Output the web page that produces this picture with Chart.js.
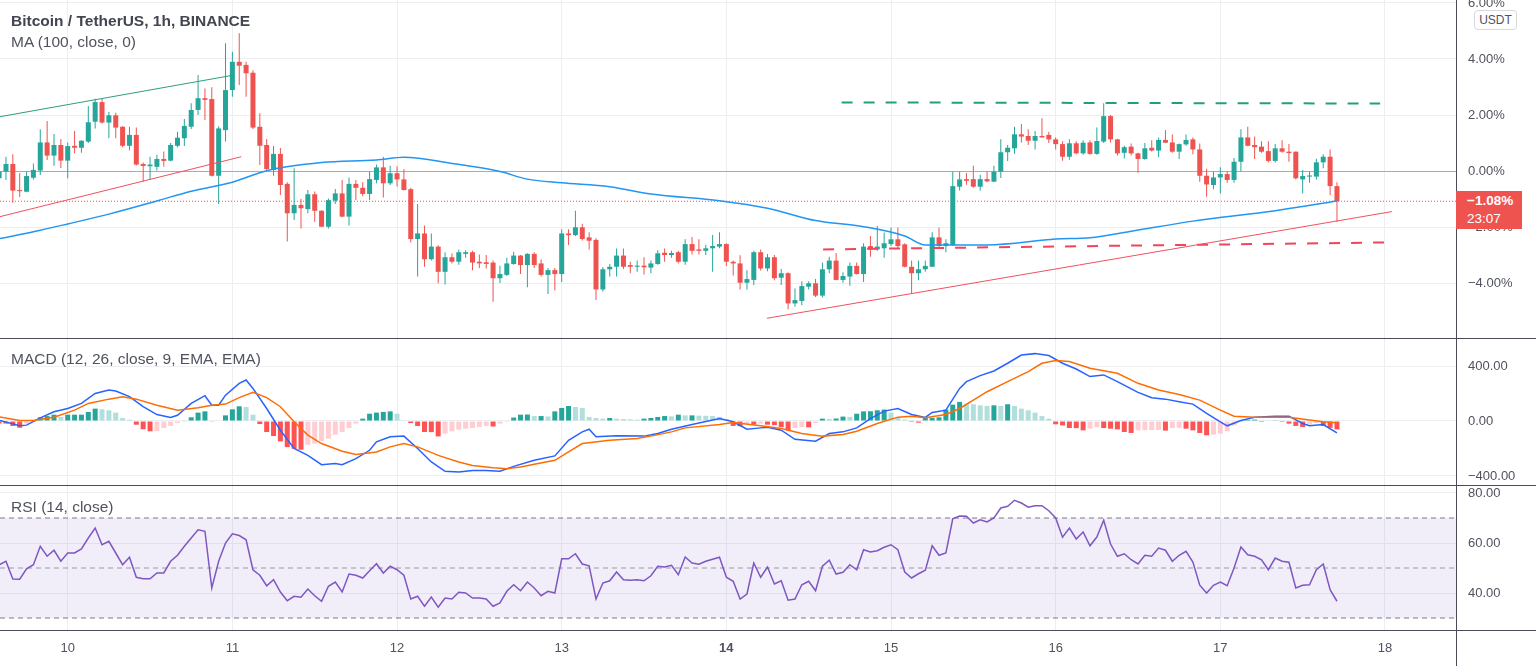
<!DOCTYPE html>
<html lang="en">
<head>
<meta charset="UTF-8">
<title>BTCUSDT 1h</title>
<script src="https://cdn.jsdelivr.net/npm/chart.js"></script>
<style>
    * { margin: 0; padding: 0; }
    body { width: 1536px; height: 666px; background: #fff; overflow: hidden; font-family: "Liberation Sans", Arial, sans-serif; }
    #wrap { position: relative; width: 1536px; height: 666px; }
    canvas { position: absolute; left: 0; }
    .hline { position: absolute; left: 0; width: 1536px; height: 1px; background: #4a4c55; }
    .vline { position: absolute; top: 0; left: 1456px; width: 1px; height: 666px; background: #4a4c55; }
    .title { position: absolute; left: 11px; font-size: 15.5px; line-height: 18px; color: #50535e; white-space: nowrap; }
    .title.main { font-weight: bold; color: #434651; }
    #usdt { position: absolute; left: 1474px; top: 10px; width: 41px; height: 18px; border: 1px solid #d6d8de; border-radius: 4px;
            font-size: 12px; line-height: 18px; text-align: center; color: #50535e; background: #fff; }
    #last { position: absolute; left: 1456px; top: 191px; width: 66px; height: 38px; background: #ef5350; color: #fff;
            font-size: 13.5px; line-height: 18px; padding-top: 1px; box-sizing: border-box; padding-left: 11px; }
    #last b { font-weight: bold; }
</style>
</head>
<body>
<div id="wrap">
    <canvas id="price" width="1536" height="338" style="top:0"></canvas>
    <canvas id="macd" width="1536" height="146" style="top:339px"></canvas>
    <canvas id="rsi" width="1536" height="180" style="top:486px"></canvas>

    <div class="hline" style="top:338px"></div>
    <div class="hline" style="top:485px"></div>
    <div class="hline" style="top:630px"></div>
    <div class="vline"></div>

    <div class="title main" style="top:12px">Bitcoin / TetherUS, 1h, BINANCE</div>
    <div class="title" style="top:33px">MA (100, close, 0)</div>
    <div class="title" style="top:350px">MACD (12, 26, close, 9, EMA, EMA)</div>
    <div class="title" style="top:498px">RSI (14, close)</div>

    <div id="usdt">USDT</div>
    <div id="last"><b>−1.08%</b><br>23:07</div>
</div>
<script>
// candles, 1h, values in % (index 0 = 9th 14:00)
const opens = [
    -0.26, -0.02, 0.25, -0.68, -0.74, -0.24, 0.0, 1.02, 0.55, 0.93,
    0.37, 0.9, 0.83, 1.05, 1.76, 2.46, 1.73, 1.99, 1.58, 0.9,
    1.29, 0.25, 0.17, 0.15, 0.43, 0.37, 0.9, 1.17, 1.58, 2.18,
    2.6, 2.57, -0.17, 1.46, 2.89, 3.9, 3.79, 3.51, 1.58, 0.93,
    0.04, 0.61, -0.46, -1.51, -1.21, -1.36, -0.83, -1.42, -1.99, -1.06,
    -0.8, -1.63, -0.46, -0.6, -0.82, -0.32, 0.13, -0.44, -0.08, -0.3,
    -0.65, -2.43, -2.23, -3.15, -2.7, -3.6, -3.08, -3.24, -2.96, -2.9,
    -3.24, -3.26, -3.27, -3.83, -3.71, -3.32, -3.02, -3.36, -2.96, -3.3,
    -3.71, -3.54, -3.68, -2.23, -2.29, -2.01, -2.37, -2.46, -4.23, -3.51,
    -3.42, -3.02, -3.36, -3.42, -3.38, -3.45, -3.32, -2.92, -3.0, -2.9,
    -3.24, -2.61, -2.8, -2.85, -2.76, -2.7, -2.61, -3.24, -3.3, -3.99,
    -3.89, -2.9, -3.48, -3.08, -3.81, -3.65, -4.73, -4.64, -4.13, -4.01,
    -4.45, -3.51, -3.2, -3.89, -3.77, -3.39, -3.68, -2.68, -2.8, -2.76,
    -2.61, -2.44, -2.62, -3.42, -3.65, -3.51, -3.42, -2.37, -2.68, -2.64,
    -0.56, -0.29, -0.29, -0.56, -0.29, -0.38, -0.02, 0.67, 0.81, 1.31,
    1.25, 1.08, 1.25, 1.29, 1.13, 0.96, 0.51, 0.99, 0.63, 1.02,
    0.61, 1.05, 1.96, 1.13, 0.65, 0.87, 0.63, 0.43, 0.83, 0.73,
    1.11, 1.02, 0.69, 0.95, 1.13, 0.77, -0.17, -0.5, -0.23, -0.11,
    -0.32, 0.33, 1.2, 0.93, 0.87, 0.71, 0.36, 0.81, 0.69, 0.69,
    -0.3, -0.2, -0.2, 0.31, 0.51, -0.54
];
const highs = [
    0.1, 0.51, 0.6, -0.07, 0.0, 0.27, 1.49, 1.79, 1.32, 1.14,
    1.02, 1.43, 1.1, 2.32, 2.58, 2.58, 2.11, 2.08, 1.6, 1.58,
    1.55, 0.3, 0.51, 0.58, 0.7, 1.0, 1.4, 1.86, 2.42, 3.43,
    2.95, 2.99, 1.6, 4.56, 4.26, 4.92, 3.9, 3.6, 2.06, 1.14,
    0.89, 0.82, -0.4, 0.1, -1.0, -0.68, -0.73, -1.4, -0.98, -0.64,
    -0.32, -0.23, -0.32, -0.4, 0.0, 0.23, 0.51, 0.19, 0.17, 0.06,
    -0.6, -1.18, -1.95, -2.23, -2.65, -2.9, -2.95, -2.8, -2.83, -2.85,
    -2.98, -3.0, -3.2, -3.38, -3.1, -2.88, -3.0, -2.94, -2.9, -3.15,
    -3.46, -3.46, -2.08, -2.08, -1.42, -1.88, -2.19, -2.4, -3.43, -3.32,
    -2.77, -2.77, -3.24, -3.2, -3.08, -3.2, -2.83, -2.77, -2.85, -2.85,
    -2.44, -2.36, -2.44, -2.63, -2.29, -2.19, -2.58, -3.2, -3.01, -3.54,
    -2.85, -2.8, -2.96, -3.0, -3.5, -3.62, -4.2, -3.94, -3.94, -3.86,
    -3.27, -3.06, -2.93, -3.62, -3.27, -3.27, -2.58, -2.32, -1.96, -2.2,
    -2.02, -2.02, -2.58, -3.2, -3.2, -3.2, -2.19, -2.02, -2.44, -0.02,
    0.0, -0.07, 0.19, -0.13, 0.0, 0.19, 1.13, 0.93, 1.58, 1.68,
    1.49, 1.43, 1.88, 1.4, 1.2, 1.06, 1.13, 1.06, 1.1, 1.1,
    1.55, 2.42, 2.0, 1.15, 0.9, 0.98, 0.65, 1.0, 1.1, 1.2,
    1.46, 1.3, 0.98, 1.3, 1.2, 0.98, 0.08, 0.0, 0.13, 0.0,
    0.46, 1.49, 1.58, 1.23, 1.06, 1.06, 0.96, 1.1, 0.96, 0.7,
    0.04, 0.0, 0.44, 0.6, 0.77, -0.4
];
const lows = [
    -0.35, -0.32, -1.13, -0.93, -0.76, -0.3, -0.14, 0.39, 0.19, 0.11,
    -0.26, 0.63, 0.65, 1.0, 1.52, 1.7, 1.17, 1.17, 0.85, 0.73,
    0.2, -0.38, -0.32, 0.0, 0.15, 0.35, 0.85, 0.89, 1.5, 2.0,
    1.82, -0.2, -1.18, 1.05, 2.65, 3.07, 2.65, 1.5, 0.21, 0.0,
    -0.17, -0.86, -2.52, -1.75, -2.05, -1.51, -1.81, -2.0, -2.05, -1.18,
    -1.65, -1.95, -1.04, -0.9, -1.04, -0.44, -0.95, -0.5, -0.55, -0.7,
    -2.55, -3.77, -3.42, -3.2, -4.01, -4.05, -3.3, -3.35, -3.1, -3.54,
    -3.46, -3.48, -4.67, -4.0, -3.75, -3.35, -3.68, -4.15, -3.46, -3.77,
    -4.39, -4.27, -3.96, -2.64, -2.32, -2.48, -2.8, -4.61, -4.3, -3.77,
    -3.77, -3.5, -3.65, -3.6, -3.7, -3.65, -3.35, -3.24, -3.1, -3.3,
    -3.35, -2.98, -2.98, -3.0, -3.6, -2.76, -3.39, -3.73, -4.23, -4.23,
    -4.07, -3.55, -3.58, -3.9, -4.07, -4.94, -4.85, -4.79, -4.23, -4.5,
    -4.52, -3.65, -3.9, -3.99, -4.1, -3.7, -3.96, -3.06, -2.85, -3.1,
    -2.68, -2.76, -3.45, -4.37, -3.9, -3.6, -3.42, -2.76, -2.9, -2.68,
    -0.7, -0.49, -0.6, -0.7, -0.4, -0.4, -0.25, 0.36, 0.62, 1.02,
    0.93, 0.77, 1.2, 1.0, 0.77, 0.37, 0.4, 0.6, 0.58, 0.58,
    0.58, 1.0, 1.02, 0.55, 0.45, 0.55, -0.06, 0.4, 0.7, 0.5,
    1.0, 0.65, 0.43, 0.9, 0.6, -0.38, -0.92, -0.65, -0.8, -0.42,
    -0.42, -0.02, 0.88, 0.43, 0.65, 0.3, 0.3, 0.65, 0.33, -0.3,
    -0.8, -0.42, -0.3, 0.1, -0.86, -1.81
];
const closes = [
    -0.02, 0.25, -0.7, -0.72, -0.18, 0.04, 1.02, 0.55, 0.93, 0.37,
    0.89, 0.83, 1.08, 1.74, 2.46, 1.73, 1.99, 1.55, 0.9, 1.29,
    0.23, 0.18, 0.23, 0.43, 0.36, 0.93, 1.19, 1.61, 2.18, 2.6,
    2.54, -0.17, 1.52, 2.89, 3.9, 3.76, 3.49, 1.55, 0.9, 0.07,
    0.61, -0.5, -1.51, -1.21, -1.33, -0.83, -1.42, -1.99, -1.04, -0.8,
    -1.63, -0.46, -0.6, -0.82, -0.29, 0.13, -0.44, -0.08, -0.3, -0.68,
    -2.43, -2.23, -3.15, -2.7, -3.6, -3.08, -3.24, -2.9, -2.9, -3.27,
    -3.3, -3.32, -3.83, -3.68, -3.3, -3.02, -3.36, -2.96, -3.36, -3.71,
    -3.54, -3.68, -2.23, -2.29, -2.01, -2.43, -2.49, -4.23, -3.51, -3.42,
    -3.02, -3.42, -3.42, -3.38, -3.44, -3.3, -2.94, -3.0, -2.93, -3.24,
    -2.61, -2.85, -2.85, -2.76, -2.68, -2.61, -3.24, -3.3, -3.99, -3.86,
    -2.9, -3.48, -3.08, -3.83, -3.65, -4.73, -4.61, -4.11, -4.01, -4.45,
    -3.51, -3.2, -3.89, -3.75, -3.39, -3.68, -2.7, -2.8, -2.7, -2.58,
    -2.44, -2.68, -3.42, -3.65, -3.51, -3.39, -2.37, -2.68, -2.58, -0.54,
    -0.3, -0.35, -0.56, -0.29, -0.37, -0.02, 0.67, 0.83, 1.31, 1.23,
    1.08, 1.25, 1.2, 1.13, 0.96, 0.51, 0.99, 0.63, 1.01, 0.61,
    1.07, 1.96, 1.13, 0.63, 0.85, 0.63, 0.43, 0.81, 0.73, 1.11,
    1.01, 0.69, 0.96, 1.11, 0.77, -0.17, -0.48, -0.23, -0.11, -0.32,
    0.33, 1.2, 0.9, 0.85, 0.69, 0.36, 0.81, 0.69, 0.64, -0.26,
    -0.18, -0.16, 0.31, 0.51, -0.54, -1.08
];

// MA(100) read at some candles
const maIdx = [0, 5, 10, 16, 23, 28, 34, 39, 47, 55, 59, 66, 73, 77, 82, 89, 95, 105, 112, 119, 126, 132, 135, 144, 154, 159, 165, 174, 186, 195];
const maVal = [-2.42, -2.17, -1.89, -1.54, -1.07, -0.72, -0.4, 0.01, 0.3, 0.39, 0.49, 0.27, -0.02, -0.29, -0.42, -0.56, -0.82, -1.06, -1.33, -1.77, -1.99, -2.32, -2.64, -2.64, -2.43, -2.38, -2.15, -1.79, -1.42, -1.07];

// drawn lines (candle index, %)
const greenChannelX = [0.13, 34.3], greenChannelY = [1.94, 3.43];
const redChannelX = [0.13, 35.3], redChannelY = [-1.63, 0.51];
const supportX = [111.9, 203], supportY = [-5.26, -1.45];
const resistDashX = [122.8, 201.3], resistDashY = [2.45, 2.41];
const supportDashX = [120.1, 202.7], supportDashY = [-2.8, -2.55];

// MACD
const macdIdx = [0, 3, 4, 6, 8, 10, 12, 14, 16, 17, 19, 21, 23, 25, 26, 28, 30, 31, 32, 33, 35, 36, 37, 39, 41, 43, 45, 47, 49, 50,
    52, 54, 55, 57, 59, 61, 63, 65, 67, 69, 71, 73, 75, 78, 81, 83, 85, 86, 87, 90, 94, 96, 98, 101, 105, 107, 109, 111, 112, 114,
    116, 119, 121, 123, 125, 127, 129, 131, 133, 135, 136, 138, 140, 141, 143, 145, 147, 149, 151, 153, 155, 157, 159, 161, 163, 166,
    168, 170, 172, 174, 176, 178, 179, 181, 183, 186, 188, 190, 191, 193, 195];
const macdVal = [5, -35, -30, 23, 67, 91, 128, 200, 225, 218, 177, 104, 47, 26, 42, 128, 184, 115, 115, 188, 274, 298, 237, 91, -67, -200, -250, -318, -310, -318,
    -274, -213, -152, -115, -110, -200, -298, -366, -371, -360, -360, -366, -330, -286, -254, -140, -79, -60, -115, -108, -110, -91, -60, -26, 18, -6, -60, -50, -45, -67,
    -133, -147, -91, -79, -50, 18, 72, 91, 47, 26, 62, 79, 237, 286, 330, 364, 420, 480, 490, 476, 420, 378, 323, 335, 286, 208,
    169, 159, 140, 123, 55, -6, -35, 4, 28, 35, 35, -18, -35, -26, -86];
const signalIdx = [0, 3, 5, 8, 11, 13, 16, 18, 20, 23, 26, 29, 31, 33, 35, 37, 39, 41, 43, 45, 47, 50, 52, 55, 57, 59, 61, 64, 67, 69,
    72, 74, 76, 78, 81, 83, 85, 89, 93, 95, 98, 100, 105, 107, 111, 114, 117, 120, 123, 125, 128, 131, 133, 135, 138, 140, 142, 144, 147, 150,
    152, 154, 156, 159, 163, 166, 169, 172, 175, 178, 180, 183, 185, 188, 191, 193, 195];
const signalVal = [31, 4, 4, 27, 79, 128, 159, 177, 159, 115, 79, 96, 115, 123, 170, 208, 170, 104, -6, -103, -164, -220, -244, -225, -188, -164, -188, -250, -298, -323,
    -340, -347, -335, -315, -286, -225, -164, -140, -128, -110, -79, -50, -26, -11, -35, -55, -91, -110, -98, -74, -18, 28, 35, 23, 47, 91, 152, 213, 286, 359,
    420, 440, 432, 384, 347, 274, 225, 193, 152, 79, 35, 28, 28, 28, 8, -6, -13];
const hist = [
    -19, -19, -36, -49, -19, -7, 27, 36, 46, 29,
    46, 46, 46, 66, 90, 85, 78, 61, 22, 10,
    -27, -60, -75, -74, -51, -36, -15, -7, 27, 61,
    70, -5, 0, 41, 85, 107, 102, 46, -22, -80,
    -109, -148, -190, -202, -209, -173, -165, -147, -129, -100,
    -80, -51, -19, 17, 53, 61, 66, 70, 53, 5,
    -15, -36, -80, -81, -112, -92, -75, -63, -56, -51,
    -44, -36, -40, -19, -7, 25, 46, 47, 36, 36,
    33, 70, 95, 109, 102, 95, 29, 22, 17, 22,
    17, 14, 12, 10, 17, 22, 29, 36, 34, 46,
    41, 41, 39, 38, 36, 30, 15, -36, -38, -19,
    -25, -19, -27, -30, -44, -68, -51, -44, -46, -15,
    17, 15, 18, 32, 30, 53, 70, 71, 78, 83,
    61, 22, 10, -7, -12, 22, 23, 27, 83, 119,
    139, 126, 122, 114, 109, 114, 110, 122, 110, 90,
    78, 61, 36, 17, -24, -32, -51, -52, -68, -56,
    -44, -51, -56, -61, -80, -87, -68, -67, -66, -65,
    -70, -51, -50, -56, -68, -87, -104, -100, -92, -75,
    -32, -7, 7, 10, -7, 4, 5, -7, -19, -36,
    -44, -25, -15, -36, -50, -61
];

// RSI
const rsiIdx = [];
for (let i = 0; i <= 195; i++) if (i !== 104) rsiIdx.push(i);
const rsiVal = [
    51.3, 52.7, 45.6, 45.5, 49.7, 51.3, 58.7, 54.7, 57.1, 52.7,
    56, 56, 57.6, 62, 66, 59.3, 60.7, 56, 51.3, 54.3,
    46.3, 45.7, 45.7, 48, 48, 52.7, 55.1, 58.7, 62, 65.3,
    64.7, 42, 52.7, 60, 63.7, 63, 61.3, 49.3, 47.1, 42.9,
    45.3, 40.4, 36.9, 38.7, 38.3, 41.6, 38.9, 36.7, 42.7, 44.4,
    40.4, 47.6, 47.1, 46, 48.9, 51.7, 48, 50.7, 49.3, 47.1,
    37.6, 38.7, 34.7, 38.4, 34.3, 38, 37.6, 40.3, 40, 38,
    38, 37.6, 34.7, 36, 40.7, 43.3, 40.9, 44.4, 42, 38.9,
    40.7, 40, 53.7, 53.7, 55.7, 51.6, 50.9, 37.6, 44, 44.9,
    48.4, 45.3, 45.1, 45.3, 44.9, 46.9, 50.7, 50.4, 51.1, 47.3,
    54.4, 52, 51.5, 52.7, /* 104 not read */ 54.3, 46.3, 44.7, 37.6, 39.6,
    52, 46.3, 50.4, 43.6, 44.9, 37.1, 37.6, 43.3, 44.7, 40.9,
    50.7, 53.1, 47.6, 48.3, 51.3, 49.3, 57.3, 56.4, 56.9, 58.3,
    59.3, 57.3, 48.4, 46, 47.7, 49.1, 58.9, 55.1, 56, 69.7,
    70.8, 70.7, 68, 69.3, 68.4, 70, 74, 74.7, 77.1, 76,
    74.3, 74.9, 74.9, 72.9, 70, 62.3, 66, 61.6, 64.4, 58.9,
    62.4, 69.1, 59.6, 54.7, 55.7, 53.3, 51.6, 55.1, 54.7, 58,
    57.1, 52.7, 55.1, 56.7, 52.4, 43.1, 40, 43.1, 44.4, 42.9,
    50, 58.4, 55.3, 54.7, 53.3, 49.3, 54, 52.7, 52.3, 42,
    43.1, 43.3, 49.3, 51.6, 41.3, 36.7
];

// axes
const dayTicks = [10, 34, 58, 82, 106, 130, 154, 178, 202];
const dayLabels = ['10', '11', '12', '13', '14', '15', '16', '17', '18'];
const priceTicks = [6, 4, 2, 0, -2, -4];
const macdTicks = [400, 0, -400];
const rsiTicks = [80, 60, 40];
const rsiBands = [70, 50, 30];

const teal = '#26a69a', red = '#ef5350';
const gridColor = '#eceef2';
const axisText = '#50535e';
const fontFamily = '"Liberation Sans", Arial, sans-serif';
const xMin = 0.13, xMax = 212.35;

const pts = (xs, ys) => xs.map((x, k) => ({ x: x, y: ys[k] }));
const candleColors = opens.map((o, i) => closes[i] >= o ? teal : red);
const histColors = hist.map((v, i) => {
    const p = i > 0 ? hist[i - 1] : v;
    if (v >= 0) return v >= p ? '#26a69a' : '#b2dfdb';
    return v <= p ? '#ff5252' : '#ffcdd2';
});
const minus = v => (v < 0 ? '−' : '') + Math.abs(v).toFixed(2);

function xAxis(showLabels) {
    return {
        type: 'linear', min: xMin, max: xMax, offset: false,
        afterBuildTicks: s => { s.ticks = dayTicks.map(v => ({ value: v })); },
        afterFit: s => { s.height = showLabels ? 36 : 0; s.paddingLeft = 0; s.paddingRight = 0; },
        grid: { color: gridColor, drawTicks: false, offset: false },
        border: { display: false },
        ticks: {
            display: showLabels, padding: 11, color: axisText, maxRotation: 0, autoSkip: false,
            font: ctx => ({ size: 13, family: fontFamily, weight: ctx.tick && ctx.tick.value === 106 ? 'bold' : 'normal' }),
            callback: v => dayLabels[dayTicks.indexOf(v)]
        }
    };
}

function yAxis(min, max, ticks, fmt, zeroColor) {
    return {
        position: 'right', min: min, max: max,
        afterBuildTicks: s => { s.ticks = ticks.map(v => ({ value: v })); },
        afterFit: s => { s.width = 80; s.paddingTop = 0; s.paddingBottom = 0; },
        grid: { drawTicks: false, color: ctx => (zeroColor && ctx.tick && ctx.tick.value === 0) ? zeroColor : gridColor },
        border: { display: false },
        ticks: { padding: 12, color: axisText, font: { size: 13, family: fontFamily }, callback: fmt, autoSkip: false }
    };
}

const baseOptions = {
    responsive: false,
    animation: false,
    devicePixelRatio: 1,
    events: [],
    layout: { padding: 0, autoPadding: false },
    plugins: { legend: { display: false }, tooltip: { enabled: false } }
};

function lineSet(data, color, width, dash, order) {
    return { type: 'line', data: data, borderColor: color, borderWidth: width, borderDash: dash || [],
             pointRadius: 0, fill: false, order: order };
}

// price pane
new Chart(document.getElementById('price'), {
    type: 'bar',
    data: {
        datasets: [
            lineSet(pts(greenChannelX, greenChannelY), '#2f9e78', 1, null, 1),
            lineSet(pts(redChannelX, redChannelY), '#f0515d', 1, null, 1),
            lineSet(pts(supportX, supportY), '#f0515d', 1, null, 1),
            lineSet(pts(resistDashX, resistDashY), '#22a07c', 2, [11, 11], 1),
            lineSet(pts(supportDashX, supportDashY), '#f0455a', 2, [11, 11], 1),
            Object.assign(lineSet(pts(maIdx, maVal), '#2196f3', 1.5, null, 2), { cubicInterpolationMode: 'monotone' }),
            {
                type: 'bar', order: 3, grouped: false, barThickness: 5, minBarLength: 1, inflateAmount: 0,
                data: opens.map((o, i) => ({ x: i, y: [o, closes[i]] })),
                backgroundColor: candleColors
            },
            {
                type: 'bar', order: 4, grouped: false, barThickness: 1, inflateAmount: 0,
                data: opens.map((o, i) => ({ x: i, y: [lows[i], highs[i]] })),
                backgroundColor: candleColors
            },
            lineSet([{ x: xMin, y: closes[closes.length - 1] }, { x: xMax, y: closes[closes.length - 1] }], red, 1, [1, 2], 5)
        ]
    },
    options: Object.assign({}, baseOptions, {
        scales: {
            x: xAxis(false),
            y: yAxis(-5.964, 6.107, priceTicks, v => minus(v) + '%', '#a8abb3')
        }
    })
});

// MACD pane
new Chart(document.getElementById('macd'), {
    type: 'bar',
    data: {
        datasets: [
            lineSet(pts(signalIdx, signalVal), '#ff6d00', 1.5, null, 1),
            lineSet(pts(macdIdx, macdVal), '#2962ff', 1.5, null, 2),
            {
                type: 'bar', order: 3, grouped: false, barThickness: 5, inflateAmount: 0,
                data: hist.map((v, i) => ({ x: i, y: v })),
                backgroundColor: histColors
            }
        ]
    },
    options: Object.assign({}, baseOptions, {
        scales: {
            x: xAxis(false),
            y: yAxis(-465.5, 596.4, macdTicks, v => minus(v))
        }
    })
});

// RSI pane
const band = v => [{ x: xMin, y: v }, { x: xMax, y: v }];
new Chart(document.getElementById('rsi'), {
    type: 'line',
    data: {
        datasets: [
            lineSet(pts(rsiIdx, rsiVal), '#7e57c2', 1.5, null, 1),
            lineSet(band(rsiBands[0]), '#787b86', 1, [5, 4], 2),
            lineSet(band(rsiBands[1]), '#9a9ca5', 1, [5, 4], 2),
            Object.assign(lineSet(band(rsiBands[2]), '#787b86', 1, [5, 4], 2),
                { fill: { target: { value: rsiBands[0] } }, backgroundColor: 'rgba(126, 87, 194, 0.1)' })
        ]
    },
    options: Object.assign({}, baseOptions, {
        scales: {
            x: xAxis(true),
            y: yAxis(25.2, 82.8, rsiTicks, v => v.toFixed(2))
        }
    })
});
</script>
</body>
</html>
